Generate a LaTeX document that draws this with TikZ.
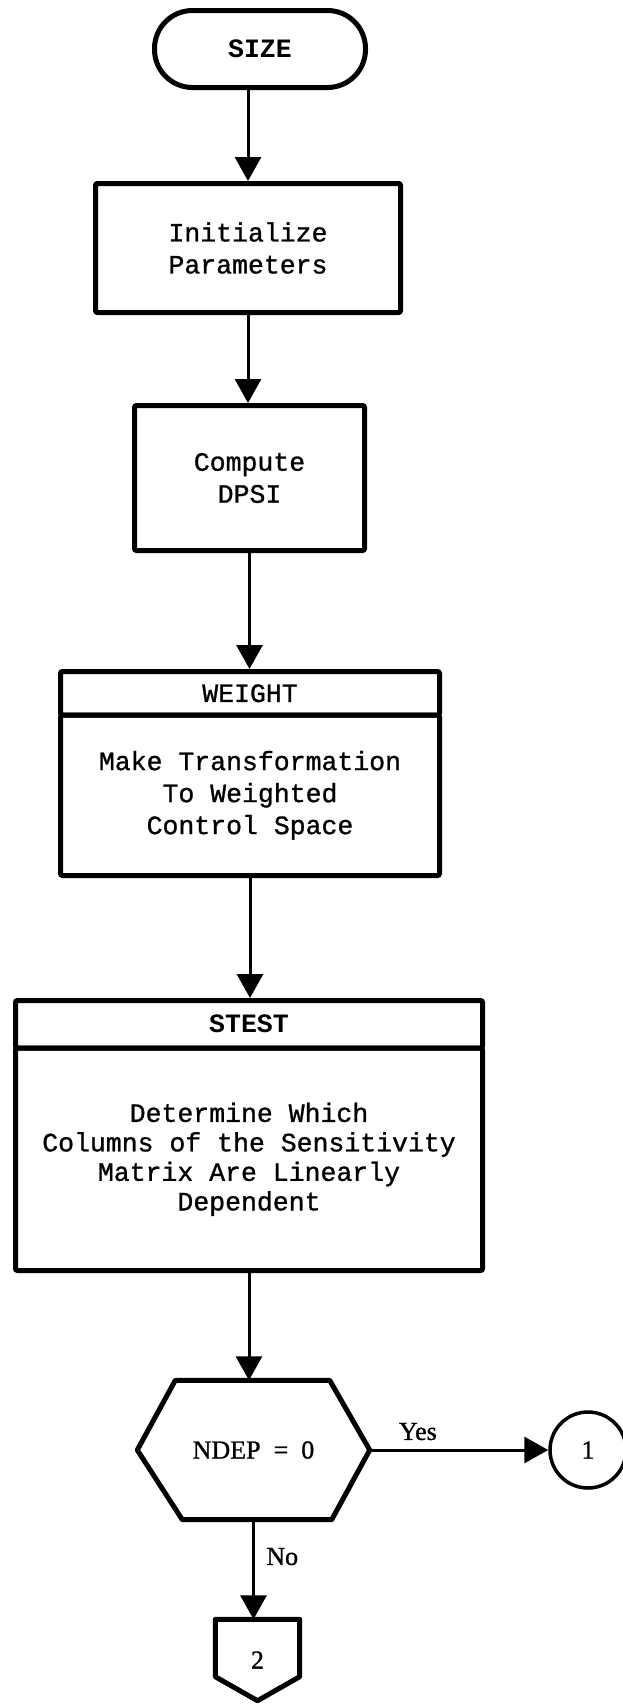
\documentclass[tikz,border=0pt]{standalone}
\usepackage{fontspec}
\newfontfamily\typefont{Liberation Mono}[FakeBold=1]
\newfontfamily\headfont{Liberation Mono Bold}
\newfontfamily\serifont{Liberation Serif}[FakeBold=1]
\usetikzlibrary{arrows.meta, calc}
\newcommand{\boxfont}{\fontsize{26.5}{32}\selectfont\typefont}
\newcommand{\lblfont}{\fontsize{26}{30}\selectfont\serifont}

\begin{document}
\begin{tikzpicture}[x=1pt, y=1pt,
    box/.style={draw, line width=5pt, rounded corners=2pt, inner sep=0pt, align=center, font=\boxfont},
    flow/.style={line width=3pt, -{Triangle[length=24pt, width=26pt]}},
    lbl/.style={font=\lblfont}]
  \useasboundingbox (0,0) rectangle (623,-1705);

  \node[box, rounded corners=38pt, minimum width=211pt, minimum height=77pt, font=\fontsize{26.5}{32}\selectfont\headfont] (size) at (260,-49) {SIZE};
  \node[box, minimum width=305pt, minimum height=129pt] (init) at (248,-248) {Initialize\\Parameters};
  \node[box, minimum width=230pt, minimum height=145pt] (dpsi) at (249.5,-478) {Compute\\DPSI};
  \node[box, minimum width=379pt, minimum height=43.5pt] (weighthead) at (250,-693.25) {WEIGHT};
  \node[box, minimum width=379pt, minimum height=160.5pt] (weight) at (250,-795.25) {Make Transformation\\To Weighted\\Control Space};
  \node[box, minimum width=467pt, minimum height=47.5pt, font=\fontsize{26.5}{32}\selectfont\headfont] (stesthead) at (249,-1024.25) {STEST};
  \node[box, minimum width=467pt, minimum height=222.5pt, font=\fontsize{26.5}{29.5}\selectfont\typefont] (stest) at (249,-1159.25)
    {Determine Which\\Columns of the Sensitivity\\Matrix Are Linearly\\Dependent};

  \node[lbl, minimum width=232pt, minimum height=139pt, inner sep=0pt] (ndep) at (253.5,-1450) {NDEP\ \ =\ \ 0};
  \draw[line width=5pt, line join=round] (ndep.west) -- ($(ndep.north west)+(38,0)$) -- ($(ndep.north east)+(-40,0)$)
    -- (ndep.east) -- ($(ndep.south east)+(-38,0)$) -- ($(ndep.south west)+(45,0)$) -- cycle;

  \node[lbl, draw, circle, line width=3.5pt, minimum size=76pt, inner sep=0pt] (one) at (588,-1450) {1};

  \node[lbl, minimum width=84pt, minimum height=81pt, inner sep=0pt] (offpage) at (257.5,-1660) {2};
  \coordinate (shoulder) at ($(offpage.south)+(0,24)$);
  \draw[line width=5pt, line join=round] (offpage.north west) -- (offpage.north east) -- (offpage.east |- shoulder)
    -- (offpage.south) -- (offpage.west |- shoulder) -- cycle;

  \draw[flow] (size.south -| init.north) -- (init.north);
  \draw[flow] (init.south) -- (init.south |- dpsi.north);
  \draw[flow] (dpsi.south) -- (dpsi.south |- weighthead.north);
  \draw[flow] (weight.south) -- (weight.south |- stesthead.north);
  \draw[flow] (stest.south) -- (stest.south |- ndep.north);
  \draw[flow] (ndep.east) -- node[lbl, above=5pt, pos=0.27] (yes) {Yes} (one.west);
  \draw[flow] (ndep.south) -- node[lbl, right=8pt, pos=0.37] (no) {No} (ndep.south |- offpage.north);
\end{tikzpicture}
\end{document}
